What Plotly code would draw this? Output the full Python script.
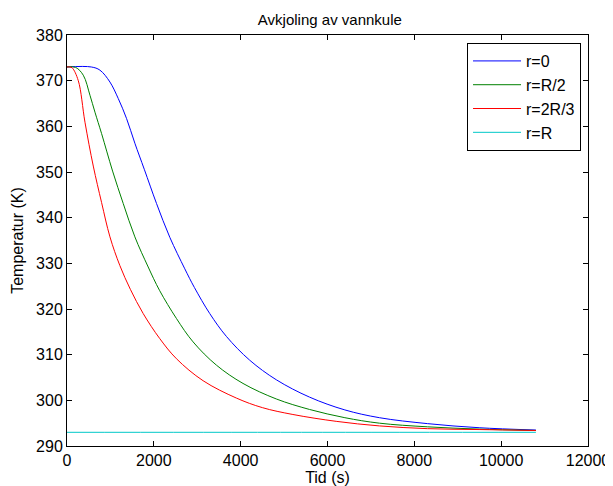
import plotly.graph_objects as go

# readings (time in s, temperature in K)
t_r0 = [0, 560, 759, 989, 1180, 1372, 1563, 1780, 2062, 2368, 2713, 2935, 3288,
        3671, 4207, 4821, 5587, 6400, 7195, 8300, 9494, 10800]
T_r0 = [373.0, 373.0, 372.3, 369.7, 366.1, 361.7, 356.3, 350.6, 343.1, 335.7, 328.8,
        324.7, 319.0, 314.0, 308.8, 304.5, 300.7, 297.9, 296.2, 294.9, 294.0, 293.5]

t_rhalf = [0, 200, 375, 529, 644, 797, 1050, 1295, 1563, 1870, 2130, 2522, 2904,
           3442, 4054, 4821, 5587, 6400, 7195, 8300, 9494, 10800]
T_rhalf = [373.0, 372.9, 371.2, 366.8, 363.1, 358.4, 350.2, 343.1, 335.8, 329.2,
           324.1, 317.9, 312.8, 307.7, 303.7, 300.3, 298.0, 296.2, 295.0, 294.2,
           293.7, 293.4]

t_r2third = [0, 60, 120, 260, 414, 605, 797, 989, 1218, 1460, 1755, 2138, 2522,
             3134, 3901, 4500, 5203, 6200, 7195, 8300, 9494, 10800]
T_r2third = [373.0, 373.0, 372.8, 370.0, 360.9, 351.3, 343.3, 335.8, 329.5, 324.3,
             319.0, 313.5, 309.1, 304.3, 300.5, 298.4, 296.9, 295.4, 294.4, 293.8,
             293.6, 293.4]

t_rR = [0, 5400, 10800]
T_rR = [293.0, 293.0, 293.0]

series = [
    ("r=0", t_r0, T_r0, "#0000ff"),
    ("r=R/2", t_rhalf, T_rhalf, "#008000"),
    ("r=2R/3", t_r2third, T_r2third, "#ff0000"),
    ("r=R", t_rR, T_rR, "#00c8c8"),
]

fig = go.Figure()
for name, t, T, color in series:
    fig.add_trace(go.Scatter(x=t, y=T, mode="lines", name=name,
                             line=dict(color=color, width=1, shape="spline", smoothing=1.0)))

axis_style = dict(showline=True, linecolor="black", linewidth=1, mirror="ticks",
                  ticks="inside", ticklen=5, tickcolor="black", showgrid=False,
                  zeroline=False, automargin=False, tickformat="d",
                  tickfont=dict(size=16, color="black"))

# page body adds an 8px offset, so the figure is 8px smaller than the window
fig.update_layout(
    width=605, height=478,
    margin=dict(l=59, r=25, t=27, b=40),
    paper_bgcolor="white", plot_bgcolor="white",
    font=dict(family="Liberation Sans, Arial, sans-serif", size=16, color="black"),
    title=dict(text="Avkjoling av vannkule", x=0.532, xanchor="center", y=0.975,
               yanchor="middle", font=dict(size=15)),
    xaxis=dict(range=[0, 12000], dtick=2000,
               title=dict(text="Tid (s)", standoff=1, font=dict(size=16)),
               **axis_style),
    yaxis=dict(range=[290, 380], dtick=10,
               title=dict(text="Temperatur (K)", standoff=8, font=dict(size=16)),
               **axis_style),
    legend=dict(x=0.9866, xanchor="right", y=0.9805, yanchor="top",
                bordercolor="black", borderwidth=1, bgcolor="white",
                font=dict(size=16), itemwidth=48, tracegroupgap=0),
    showlegend=True,
)

fig.write_html("out.html")
